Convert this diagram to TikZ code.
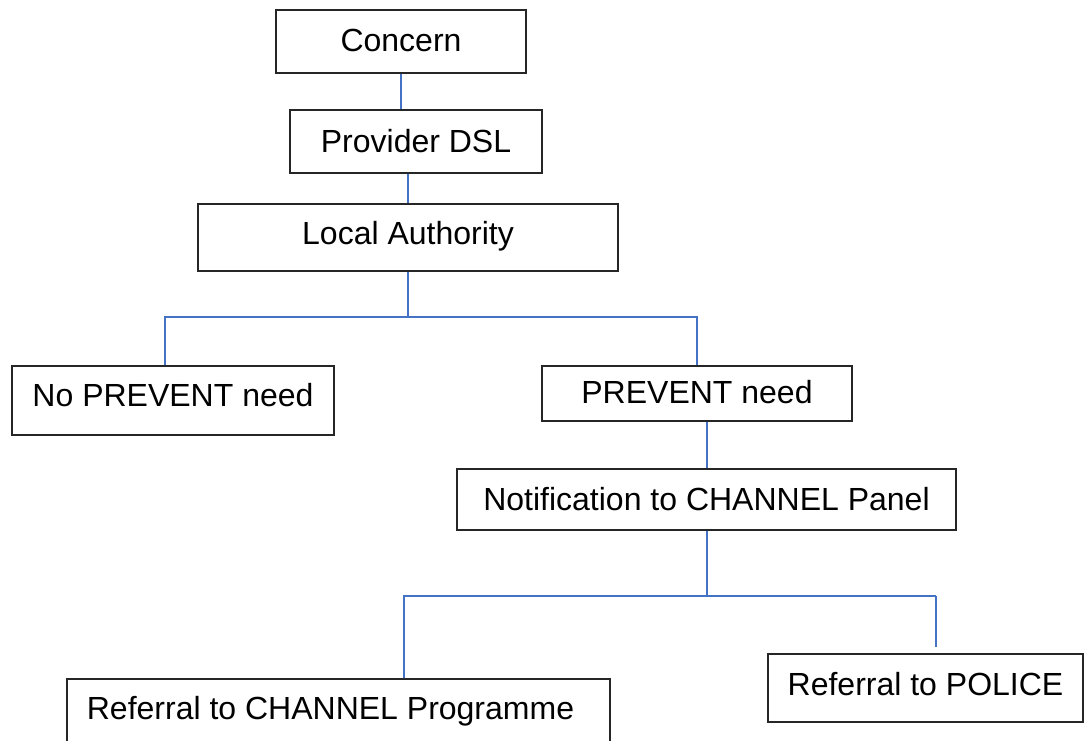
\documentclass[tikz,border=0pt]{standalone}
\usepackage{fontspec}
\setmainfont{Liberation Sans}
\definecolor{linkblue}{RGB}{68,114,196}

\begin{document}
\begin{tikzpicture}[x=0.5pt,y=-0.5pt,
    box/.style={draw=black!85,line width=0.7pt,inner sep=0pt,font=\fontsize{16}{19}\selectfont},
    link/.style={draw=linkblue,line width=1pt}]
    \path[use as bounding box,clip] (0,0) rectangle (1085,740);

    % Boxes
    \node[box,minimum width=125pt,minimum height=31.5pt,text depth=1.5pt] (concern) at (401,41.5) {Concern};
    \node[box,minimum width=126pt,minimum height=31.5pt] (dsl) at (416,141.5) {Provider DSL};
    \node[box,minimum width=210pt,minimum height=33.5pt,text depth=4.5pt] (la) at (408,237.5) {Local Authority};
    \node[box,minimum width=161pt,minimum height=34.5pt,text depth=5.5pt] (noprev) at (173,400.5) {No PREVENT need};
    \node[box,minimum width=155pt,minimum height=27.5pt,text depth=1.5pt] (prev) at (697,393.5) {PREVENT need};
    \node[box,minimum width=249.5pt,minimum height=30.5pt] (notif) at (706.5,499.5) {Notification to CHANNEL Panel};
    \node[box,minimum width=271.5pt,text height=20.25pt,text depth=20pt,anchor=base] (chanprog) at (338.5,719.5) {Referral to CHANNEL Programme\kern8pt};
    \node[box,minimum width=157.5pt,minimum height=34pt,text depth=4pt] (police) at (925.5,688) {Referral to POLICE};

    % Verbindungen oben
    \draw[link] (concern.south) -- (concern.south |- dsl.north);
    \draw[link] (dsl.south -| la.north) -- (la.north);

    % Verzweigung nach Local Authority
    \coordinate (split) at (408,317);
    \coordinate (splitL) at (165,317);
    \draw[link] (la.south) -- (split);
    \draw[link] (splitL |- noprev.north) -- (splitL) -- (split) -| (prev.north);

    \draw[link] (prev.south -| notif.north) -- (notif.north);

    % Verzweigung nach CHANNEL Panel
    \coordinate (fork) at (706.5,596);
    \coordinate (forkL) at (404,596);
    \coordinate (forkR) at (936,596);
    \draw[link] (notif.south) -- (fork);
    \draw[link] (forkL |- chanprog.north) -- (forkL) -- (forkR);
    \draw[link,shorten >=3pt] (forkR) -- (forkR |- police.north);
\end{tikzpicture}
\end{document}
